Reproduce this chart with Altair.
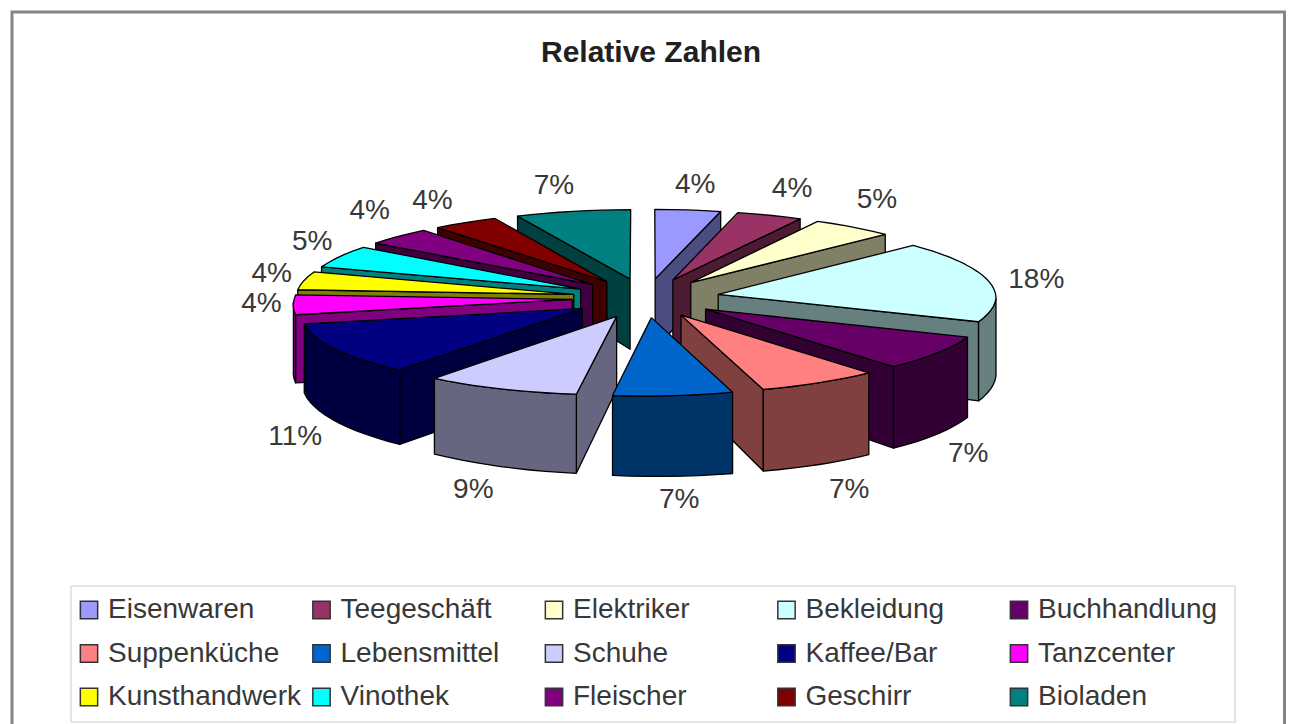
import math
import altair as alt
import pandas as pd

names = ["Eisenwaren","Teegeschäft","Elektriker","Bekleidung","Buchhandlung",
         "Suppenküche","Lebensmittel","Schuhe","Kaffee/Bar","Tanzcenter",
         "Kunsthandwerk","Vinothek","Fleischer","Geschirr","Bioladen"]
percent = [4,4,5,18,7.4,6.7,6.6,8.6,11.4,4.3,4,5,4,4,7]
top_colors = ["#9999FF","#993366","#FFFFCC","#CCFFFF","#660066","#FF8080","#0066CC",
              "#CCCCFF","#000080","#FF00FF","#FFFF00","#00FFFF","#800080","#800000","#008080"]
side_colors = ["#4C4C80","#4C1A33","#808066","#668080","#330033","#804040","#003366",
               "#666680","#000040","#800080","#808000","#008080","#400040","#400000","#004040"]
title = "Relative Zahlen"
label_nudge_x = [1, 4, -7, -1, -10, 5, 1, -9, 2, 18, 17, 17, 8, -6, -8]
label_nudge_y = [-4, -7, -11, 1, 3, 2, -3, -2, 0, -15, -5, -7, -12, -4, -5]

CX, CY, R, K, EXPL, DEPTH = 646.0, 298.0, 278.0, 0.265, 0.265, 72.0
P, Q, U_D, SHEAR = 0.04, 0.09, 0.06, 8.0

def proj(u, v):
    s = 1 / (1 + P * v)
    return CX + R * u * s + SHEAR * min(v, 0), CY - R * K * v * s, DEPTH * (1 - Q * v + U_D * u)

faces, fid = [], 0
def add(points, fill):
    global fid
    closed = points + [points[0]]
    for i, (x, y) in enumerate(closed):
        faces.append({"face": f"f{fid:03d}", "i": i, "x": x, "y": y, "fill": fill})
    fid += 1

slices, cum = [], 0.0
total = sum(percent)
for idx, pct in enumerate(percent):
    a0 = cum / total * 2 * math.pi
    cum += pct
    a1 = cum / total * 2 * math.pi
    slices.append((idx, a0, a1))

labels = []
for idx, a0, a1 in sorted(slices, key=lambda t: -math.cos((t[1] + t[2]) / 2)):
    mid = (a0 + a1) / 2
    ox, oy = EXPL * math.sin(mid), EXPL * math.cos(mid)
    n = max(4, int((a1 - a0) / math.radians(3)))
    angs = [a0 + (a1 - a0) * j / n for j in range(n + 1)]
    rim = [proj(ox + math.sin(a), oy + math.cos(a)) for a in angs]
    apex = proj(ox, oy)
    ends = []
    if math.sin(a0) < -1e-9:
        ends.append(rim[0])
    if math.sin(a1) > 1e-9:
        ends.append(rim[-1])
    for end in ends:
        add([(apex[0], apex[1]), (end[0], end[1]),
             (end[0], end[1] + end[2]), (apex[0], apex[1] + apex[2])], side_colors[idx])
    front = [p for a, p in zip(angs, rim) if math.cos(a) < 0]
    if len(front) > 1:
        add([(p[0], p[1]) for p in front] + [(p[0], p[1] + p[2]) for p in reversed(front)],
            side_colors[idx])
    add([(apex[0], apex[1])] + [(p[0], p[1]) for p in rim], top_colors[idx])
    m = proj(ox + math.sin(mid), oy + math.cos(mid))
    weight = min(1.0, max(0.0, -2 * math.cos(mid)))
    labels.append({"x": m[0] + 50 * math.sin(mid) + label_nudge_x[idx],
                   "y": m[1] - 24 * math.cos(mid) + m[2] * weight + 3 + label_nudge_y[idx],
                   "t": f"{round(percent[idx])}%"})

sx = alt.Scale(domain=[8, 1286], nice=False, zero=False)
sy = alt.Scale(domain=[724, 8], nice=False, zero=False)
X = alt.X("x:Q", scale=sx, axis=None)
Y = alt.Y("y:Q", scale=sy, axis=None)

pie = alt.Chart(pd.DataFrame(faces)).mark_line(stroke="#000000", strokeWidth=1.3, strokeJoin="round").encode(
    x=X, y=Y, detail="face:N", order="i:Q", fill=alt.Fill("fill:N", scale=None))

pct_text = alt.Chart(pd.DataFrame(labels)).mark_text(
    font="Liberation Sans", fontSize=28, color="#383838").encode(x=X, y=Y, text="t:N")

title_mark = alt.Chart(pd.DataFrame([{"x": 651, "y": 53, "t": title}])).mark_text(
    font="Liberation Sans", fontSize=30, fontWeight="bold", color="#202020").encode(x=X, y=Y, text="t:N")

frame = alt.Chart(pd.DataFrame([{"x": 12, "x2": 1284.5, "y": 12, "y2": 740}])).mark_rect(
    fill="white", stroke="#858585", strokeWidth=3).encode(x=X, x2="x2:Q", y=Y, y2="y2:Q")
legend_box = alt.Chart(pd.DataFrame([{"x": 71, "x2": 1235, "y": 586, "y2": 722}])).mark_rect(
    fill="white", stroke="#DDDDDD", strokeWidth=1.5).encode(x=X, x2="x2:Q", y=Y, y2="y2:Q")

leg = [{"x": 89 + 232.5 * (i % 5), "y": 610 + 43.5 * (i // 5), "tx": 108 + 232.5 * (i % 5),
        "t": n, "fill": c} for i, (n, c) in enumerate(zip(names, top_colors))]
leg_sq = alt.Chart(pd.DataFrame(leg)).mark_square(size=300, stroke="#333333", strokeWidth=1.5, opacity=1).encode(
    x=X, y=Y, fill=alt.Fill("fill:N", scale=None))
leg_txt = alt.Chart(pd.DataFrame(leg)).mark_text(
    font="Liberation Sans", fontSize=28, align="left", color="#383838").encode(
    x=alt.X("tx:Q", scale=sx, axis=None), y=Y, text="t:N")

chart = alt.layer(frame, legend_box, pie, pct_text, title_mark, leg_sq, leg_txt).properties(
    width=1278, height=716, background="white", padding=0,
    autosize=alt.AutoSizeParams(type="none")
).configure_view(stroke=None)

chart.save("out.html", embed_options={"renderer": "svg", "actions": False})
